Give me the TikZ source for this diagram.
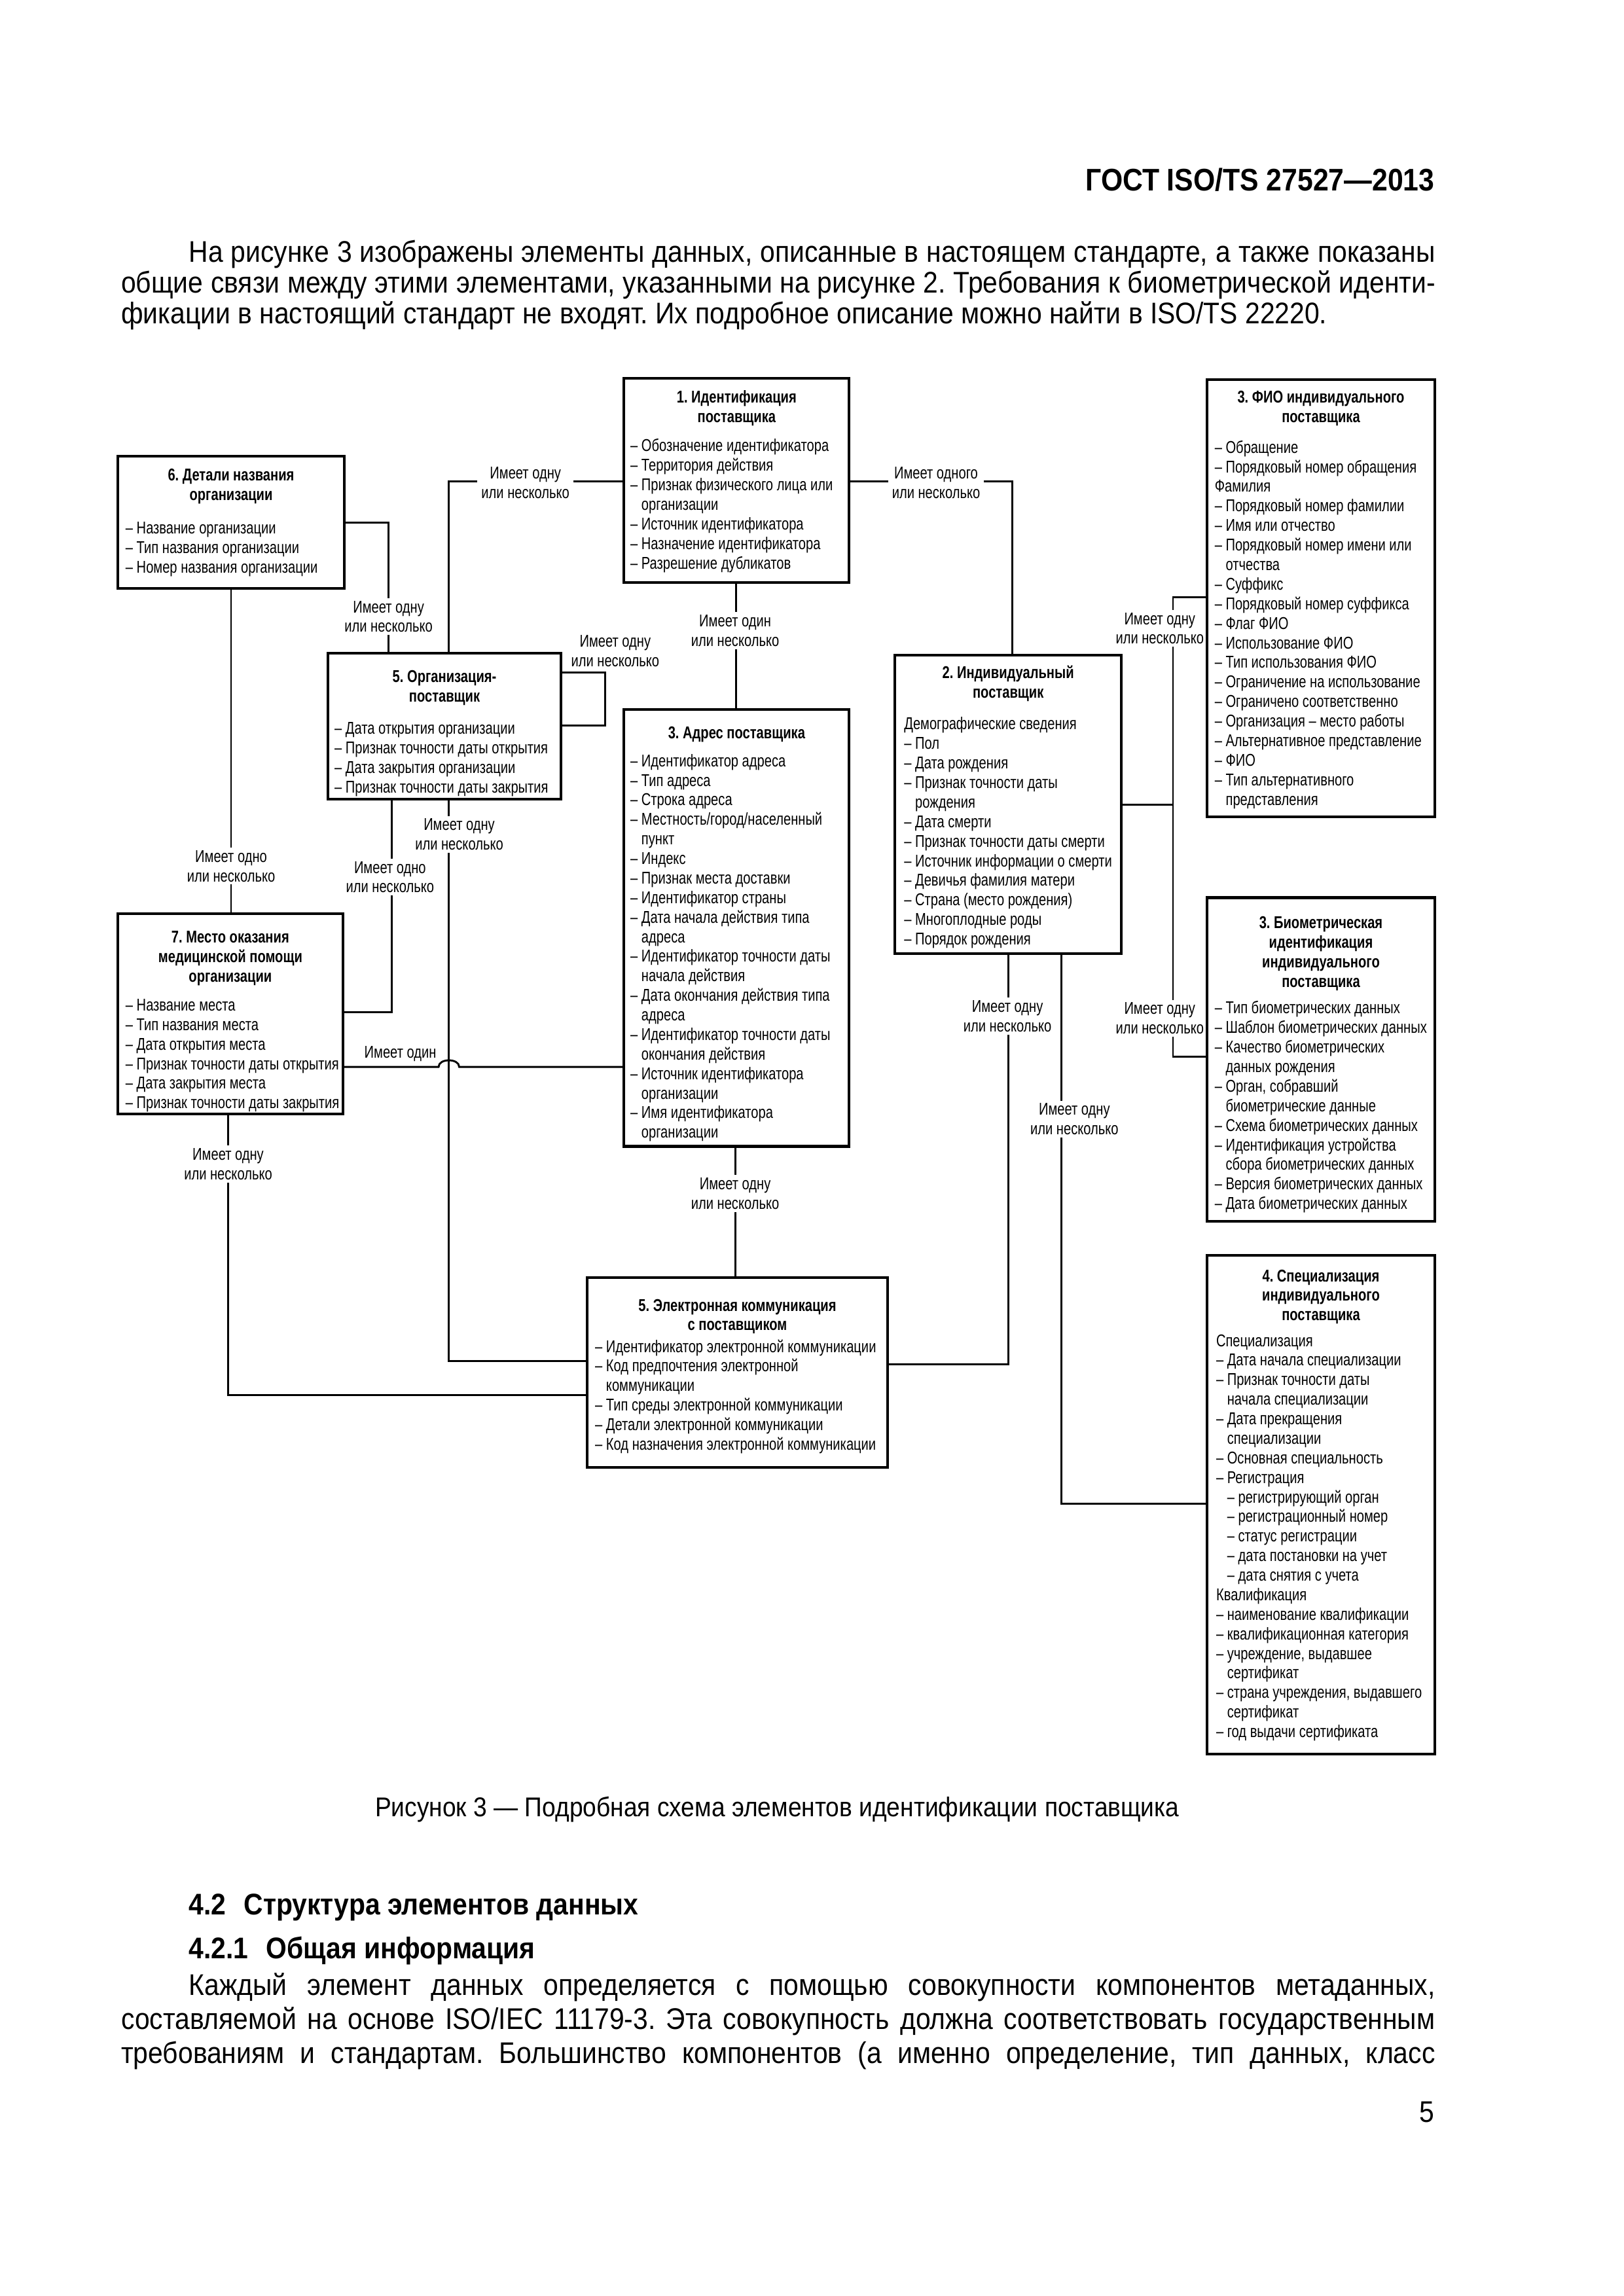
\documentclass[tikz,border=0pt]{standalone}
\usepackage{fontspec}
\setmainfont{Liberation Sans}[FakeStretch=0.895]
\newfontfamily\boxfont{Liberation Sans}[FakeStretch=0.77]
\newcommand\hg{\phantom{– }}
\newcommand\bxf{\boxfont\fontsize{6.3}{7.2}\selectfont}
\newcommand\fst{\rule{0pt}{5.2pt}}
\newcommand\mkbox[5]{\node[boxst, minimum width={(#4-#2)*0.019039cm}, minimum height={(#5-#3)*0.019039cm}] (#1) at ({(#2+#4)/2},{(#3+#5)/2}) {};}
\frenchspacing
\begin{document}
\begin{tikzpicture}[x=0.019039cm, y=-0.019039cm,
  boxst/.style={draw, line width=1pt, inner sep=0pt, anchor=center},
  ttl/.style={anchor=north, inner sep=0pt, font=\bxf\bfseries, align=center},
  bdy/.style={anchor=north west, inner sep=0pt, font=\bxf, align=left},
  lab/.style={fill=white, inner xsep=1.5pt, inner ysep=1pt, font=\bxf, align=center},
  labn/.style={fill=white, inner xsep=0.3pt, inner ysep=1pt, font=\bxf, align=center},
  conn/.style={line width=0.7pt},
  ptxt/.style={anchor=base west, inner sep=0pt, font=\fontsize{11}{13}\selectfont}]
\fill[white] (0,0) rectangle (1103,1560.2);
\useasboundingbox (0,0) rectangle (1103,1560.2);

% page text
\node[anchor=base east, inner sep=0pt, font=\bfseries\fontsize{11.5}{13}\selectfont] (hdr) at (975,129.5) {ГОСТ ISO/TS 27527—2013};
\node[ptxt] (p1) at (128,178) {\makebox[16.126cm][s]{На рисунке 3 изображены элементы данных, описанные в настоящем стандарте, а также показаны}};
\node[ptxt] (p2) at (82,199) {\makebox[17.002cm][s]{общие связи между этими элементами, указанными на рисунке 2. Требования к биометрической иденти-}};
\node[ptxt] (p3) at (82,220) {фикации в настоящий стандарт не входят. Их подробное описание можно найти в ISO/TS 22220.};
\node[anchor=base, inner sep=0pt, font=\fontsize{10}{12}\selectfont] (cap) at (528,1234.5) {Рисунок 3 — Подробная схема элементов идентификации поставщика};
\node[ptxt, font=\bfseries\fontsize{11}{13}\selectfont] (h1) at (128,1301) {4.2\hspace{0.6em}Структура элементов данных};
\node[ptxt, font=\bfseries\fontsize{11}{13}\selectfont] (h2) at (128,1331) {4.2.1\hspace{0.6em}Общая информация};
\node[ptxt] (q1) at (128,1356) {\makebox[16.126cm][s]{Каждый элемент данных определяется с помощью совокупности компонентов метаданных,}};
\node[ptxt] (q2) at (82,1379) {\makebox[17.002cm][s]{составляемой на основе ISO/IEC 11179-3. Эта совокупность должна соответствовать государственным}};
\node[ptxt] (q3) at (82,1402) {\makebox[17.002cm][s]{требованиям и стандартам. Большинство компонентов (а именно определение, тип данных, класс}};
\node[anchor=base east, inner sep=0pt, font=\fontsize{11}{13}\selectfont] (pg) at (975,1442) {5};

% boxes
\mkbox{b1}{424}{257}{577}{396}
\mkbox{b6}{80}{310}{234}{400}
\mkbox{b5}{223}{444}{381}{543}
\mkbox{b3}{424}{482}{577}{779}
\mkbox{b7}{80}{621}{233}{757}
\mkbox{b2}{608}{445}{762}{648}
\mkbox{bfio}{820}{258}{975}{555}
\mkbox{bbio}{820}{610}{975}{830}
\mkbox{bel}{399}{868}{603}{997}
\mkbox{bsp}{820}{853}{975}{1192}

% box texts
\node[ttl] (t1) at (500.5,263.9) {\fst 1. Идентификация\\поставщика};
\node[bdy] (d1) at (428,296.9) {\fst– Обозначение идентификатора\\– Территория действия\\– Признак физического лица или\\\hg организации\\– Источник идентификатора\\– Назначение идентификатора\\– Разрешение дубликатов};

\node[ttl] (t6) at (157,316.9) {\fst 6. Детали названия\\организации};
\node[bdy] (d6) at (85,352.9) {\fst– Название организации\\– Тип названия организации\\– Номер названия организации};

\node[ttl] (t5) at (302,453.9) {\fst 5. Организация-\\поставщик};
\node[bdy] (d5) at (227,488.9) {\fst– Дата открытия организации\\– Признак точности даты открытия\\– Дата закрытия организации\\– Признак точности даты закрытия};

\node[ttl] (t3) at (500.5,491.9) {\fst 3. Адрес поставщика};
\node[bdy] (d3) at (428,510.9) {\fst– Идентификатор адреса\\– Тип адреса\\– Строка адреса\\– Местность/город/населенный\\\hg пункт\\– Индекс\\– Признак места доставки\\– Идентификатор страны\\– Дата начала действия типа\\\hg адреса\\– Идентификатор точности даты\\\hg начала действия\\– Дата окончания действия типа\\\hg адреса\\– Идентификатор точности даты\\\hg окончания действия\\– Источник идентификатора\\\hg организации\\– Имя идентификатора\\\hg организации};

\node[ttl] (t7) at (156.5,630.9) {\fst 7. Место оказания\\медицинской помощи\\организации};
\node[bdy] (d7) at (85,676.9) {\fst– Название места\\– Тип названия места\\– Дата открытия места\\– Признак точности даты открытия\\– Дата закрытия места\\– Признак точности даты закрытия};

\node[ttl] (t2) at (685,450.9) {\fst 2. Индивидуальный\\поставщик};
\node[bdy] (d2) at (614,485.9) {\fst Демографические сведения\\– Пол\\– Дата рождения\\– Признак точности даты\\\hg рождения\\– Дата смерти\\– Признак точности даты смерти\\– Источник информации о смерти\\– Девичья фамилия матери\\– Страна (место рождения)\\– Многоплодные роды\\– Порядок рождения};

\node[ttl] (tf) at (897.5,263.9) {\fst 3. ФИО индивидуального\\поставщика};
\node[bdy] (df) at (825,297.9) {\fst– Обращение\\– Порядковый номер обращения\\Фамилия\\– Порядковый номер фамилии\\– Имя или отчество\\– Порядковый номер имени или\\\hg отчества\\– Суффикс\\– Порядковый номер суффикса\\– Флаг ФИО\\– Использование ФИО\\– Тип использования ФИО\\– Ограничение на использование\\– Ограничено соответственно\\– Организация – место работы\\– Альтернативное представление\\– ФИО\\– Тип альтернативного\\\hg представления};

\node[ttl] (tb) at (897.5,620.9) {\fst 3. Биометрическая\\идентификация\\индивидуального\\поставщика};
\node[bdy] (db) at (825,678.9) {\fst– Тип биометрических данных\\– Шаблон биометрических данных\\– Качество биометрических\\\hg данных рождения\\– Орган, собравший\\\hg биометрические данные\\– Схема биометрических данных\\– Идентификация устройства\\\hg сбора биометрических данных\\– Версия биометрических данных\\– Дата биометрических данных};

\node[ttl] (te) at (501,880.9) {\fst 5. Электронная коммуникация\\с поставщиком};
\node[bdy] (de) at (404,908.9) {\fst– Идентификатор электронной коммуникации\\– Код предпочтения электронной\\\hg коммуникации\\– Тип среды электронной коммуникации\\– Детали электронной коммуникации\\– Код назначения электронной коммуникации};

\node[ttl] (ts) at (897.5,860.9) {\fst 4. Специализация\\индивидуального\\поставщика};
\node[bdy] (ds) at (826,904.9) {\fst Специализация\\– Дата начала специализации\\– Признак точности даты\\\hg начала специализации\\– Дата прекращения\\\hg специализации\\– Основная специальность\\– Регистрация\\\hg – регистрирующий орган\\\hg – регистрационный номер\\\hg – статус регистрации\\\hg – дата постановки на учет\\\hg – дата снятия с учета\\Квалификация\\– наименование квалификации\\– квалификационная категория\\– учреждение, выдавшее\\\hg сертификат\\– страна учреждения, выдавшего\\\hg сертификат\\– год выдачи сертификата};

% connectors
\coordinate (j1) at (305,327);
\draw[conn] (b1.west |- j1) -- (j1) -- (j1 |- b5.north);
\coordinate (j2) at (688,327);
\draw[conn] (b1.east |- j2) -- (j2) -- (j2 |- b2.north);
\coordinate (j3) at (264,355);
\draw[conn] (b6.east |- j3) -- (j3) -- (j3 |- b5.north);
\coordinate (j4) at (157,500);
\draw[conn] (j4 |- b6.south) -- (j4 |- b7.north);
\coordinate (j5) at (266,688);
\draw[conn] (j5 |- b5.south) -- (j5) -- (j5 -| b7.east);
\coordinate (j6) at (305,925);
\draw[conn] (j6 |- b5.south) -- (j6) -- (j6 -| bel.west);
\coordinate (h1) at (298,725);
\coordinate (h2) at (312,725);
\draw[conn] (b7.east |- h1) -- (h1) .. controls +(0,-6) and +(0,-6) .. (h2) -- (h2 -| b3.west);
\coordinate (j8) at (155,948);
\draw[conn] (j8 |- b7.south) -- (j8) -- (j8 -| bel.west);
\coordinate (j9) at (500,440);
\draw[conn] (j9 |- b1.south) -- (j9 |- b3.north);
\coordinate (j10) at (499.5,820);
\draw[conn] (j10 |- b3.south) -- (j10 |- bel.north);
\coordinate (j11) at (685,927);
\draw[conn] (j11 |- b2.south) -- (j11) -- (j11 -| bel.east);
\coordinate (j12) at (721,1022);
\draw[conn] (j12 |- b2.south) -- (j12) -- (j12 -| bsp.west);
\coordinate (k1) at (797,547);
\coordinate (k2) at (797,406);
\coordinate (k3) at (797,718);
\draw[conn] (b2.east |- k1) -- (k1);
\draw[conn] (bfio.west |- k2) -- (k2) -- (k3) -- (bbio.west |- k3);
\coordinate (l1) at (411,457);
\coordinate (l2) at (411,493);
\draw[conn] (b5.east |- l1) -- (l1) -- (l2) -- (b5.east |- l2);

% labels
\node[lab] (L1) at (357,328) {Имеет одну\\или несколько};
\node[lab] (L2) at (636,328) {Имеет одного\\или несколько};
\node[lab] (L3) at (264,419) {Имеет одну\\или несколько};
\node[lab] (L4) at (157,588.5) {Имеет одно\\или несколько};
\node[lab] (L5) at (265,596) {Имеет одно\\или несколько};
\node[lab] (L6) at (312,567) {Имеет одну\\или несколько};
\node[anchor=base, inner sep=0pt, font=\bxf] (L7) at (272,719) {Имеет один};
\node[lab] (L8) at (155,791) {Имеет одну\\или несколько};
\node[lab] (L9) at (499.5,428.5) {Имеет один\\или несколько};
\node[lab] (L10) at (499.5,811) {Имеет одну\\или несколько};
\node[lab] (L11) at (684.5,690.5) {Имеет одну\\или несколько};
\node[lab] (L12) at (730,760.5) {Имеет одну\\или несколько};
\node[labn] (L13) at (788,427) {Имеет одну\\или несколько};
\node[labn] (L14) at (788,692) {Имеет одну\\или несколько};
\node[lab] (L15) at (418,442.5) {Имеет одну\\или несколько};
\end{tikzpicture}
\end{document}
